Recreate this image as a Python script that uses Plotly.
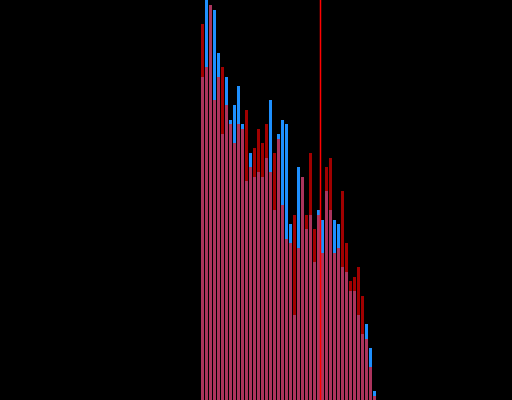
import plotly.graph_objects as go

# bin index (one per bar)
bins = list(range(44))
# series values (bar heights)
blue_vals = [323, 400, 395, 390, 347, 266, 323, 280, 295, 314, 276, 219, 247, 223, 228, 223,
             242, 300, 190, 266, 280, 276, 176, 85, 233, 223, 171, 185, 138, 190, 180, 209,
             190, 180, 176, 133, 128, 109, 109, 85, 66, 76, 52, 9]
red_vals = [376, 333, 395, 300, 323, 333, 295, 276, 257, 276, 271, 290, 233, 252, 271, 257,
            276, 228, 247, 261, 195, 161, 157, 185, 152, 223, 185, 247, 171, 185, 147, 233,
            242, 147, 152, 209, 157, 119, 123, 133, 104, 61, 33, 4]
marker_x = 29.5

fig = go.Figure()
fig.add_trace(go.Bar(x=bins, y=blue_vals, width=0.75,
                     marker=dict(color="#1e90ff", line=dict(width=0))))
fig.add_trace(go.Bar(x=bins, y=red_vals, width=0.75, opacity=0.63,
                     marker=dict(color="#ff0000", line=dict(width=0))))
fig.add_shape(type="line", x0=marker_x, x1=marker_x, y0=0, y1=1, yref="paper",
              line=dict(color="#ff0000", width=1.5))
fig.update_layout(
    width=512, height=400, margin=dict(l=0, r=0, t=0, b=0),
    barmode="overlay", showlegend=False,
    paper_bgcolor="black", plot_bgcolor="black",
    xaxis=dict(range=[-50.625, 77.375], visible=False, showgrid=False, zeroline=False),
    yaxis=dict(range=[0, 400], visible=False, showgrid=False, zeroline=False),
)
fig.write_html(
    "out.html",
    config={"displayModeBar": False},
    post_script="document.body.style.margin='0';document.body.style.background='black';"
                "document.body.style.overflow='hidden';",
)
